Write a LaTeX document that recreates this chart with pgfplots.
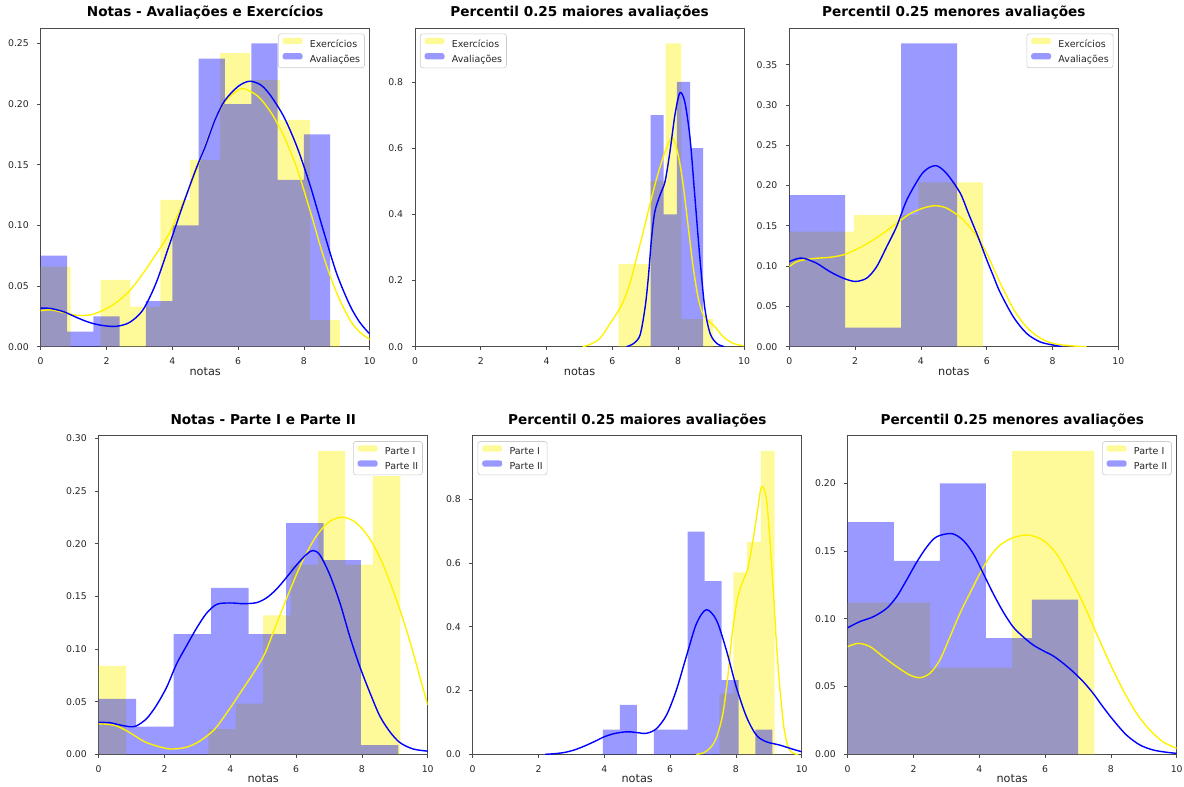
\documentclass[border=0pt]{standalone}
\usepackage{fontspec}
\setmainfont{DejaVu Sans}
\usepackage{pgfplots}
\pgfplotsset{compat=1.18}

\pgfplotsset{
  hax/.style={
    scale only axis, width=329pt, height=318.5pt,
    anchor=south west,
    xmin=0, xmax=10, ymin=0,
    xtick={0,2,4,6,8,10},
    axis line style={black!70, line width=0.8pt},
    tick style={black!70, line width=0.8pt},
    tick align=outside, major tick length=3.3pt,
    xtick pos=bottom, ytick pos=left,
    ticklabel style={font=\fontsize{9.3}{11}\selectfont, text=black!85, inner sep=0pt},
    xticklabel style={anchor=base, yshift=-15pt},
    yticklabel style={anchor=east, xshift=-8.4pt},
    /pgf/number format/assume math mode=true,
    scaled y ticks=false,
    xlabel=notas,
    xlabel style={font=\fontsize{11.3}{13}\selectfont, text=black!85, at={(axis description cs:0.5,0)}, anchor=base, yshift=-28.5pt, inner sep=0pt},
    title style={font=\fontsize{13.6}{16}\selectfont\bfseries, at={(axis description cs:0.5,1)}, anchor=base, yshift=5.3pt, inner sep=0pt},
    legend cell align=left,
    legend style={font=\fontsize{9.5}{11}\selectfont, text=black!85, draw=black!20, line width=0.6pt, rounded corners=2.5pt, fill=white, fill opacity=0.8, text opacity=1, draw opacity=1, inner xsep=4.3pt, inner ysep=3.9pt, row sep=4.5pt, nodes={inner sep=0pt}, /tikz/every odd column/.append style={column sep=7.3pt}},
  },
  legR/.style={legend style={at={(axis description cs:0.985,0.983)}, anchor=north east}},
  legL/.style={legend style={at={(axis description cs:0.015,0.983)}, anchor=north west}},
  yfmt2/.style={yticklabel style={/pgf/number format/.cd, fixed, fixed zerofill, precision=2, /tikz/.cd}},
  yfmt1/.style={yticklabel style={/pgf/number format/.cd, fixed, fixed zerofill, precision=1, /tikz/.cd}},
  yhist/.style={const plot, fill=yellow, fill opacity=0.4, draw=none, legend image code/.code={\fill[yellow, fill opacity=0.4] (0pt,0pt) rectangle (20pt,6.3pt);}},
  bhist/.style={const plot, fill=blue, fill opacity=0.4, draw=none, legend image code/.code={\fill[blue, fill opacity=0.4] (0pt,0pt) rectangle (20pt,6.3pt);}},
  ykde/.style={yellow, line width=1.4pt, smooth, forget plot},
  bkde/.style={blue, line width=1.4pt, smooth, forget plot},
}

\begin{document}
\begin{tikzpicture}
\path[use as bounding box] (0,0) rectangle (1184pt,787pt);

% ---------------- Axis 1 ----------------
\begin{axis}[hax, legR, yfmt2, at={(40.7pt,440.3pt)}, ymax=0.2625,
  ytick={0,0.05,0.10,0.15,0.20,0.25},
  title={Notas - Avaliações e Exercícios}]
\addplot[yhist] coordinates {(0,0.066)(0.909,0)(1.818,0.055)(2.727,0.033)(3.636,0.121)(4.545,0.154)(5.455,0.242)(6.364,0.220)(7.273,0.187)(8.182,0.022)(9.091,0.022)} \closedcycle;
\addlegendentry{Exercícios}
\addplot[bhist] coordinates {(0,0.075)(0.8,0.0125)(1.6,0.025)(2.4,0)(3.2,0.0375)(4.0,0.1)(4.8,0.2375)(5.6,0.2)(6.4,0.25)(7.2,0.1375)(8.0,0.175)(8.8,0.175)} \closedcycle;
\addlegendentry{Avaliações}
\addplot[ykde] coordinates {(0,0.0296)(0.3,0.0304)(0.7,0.0281)(1.1,0.0258)(1.5,0.0262)(1.9,0.0300)(2.3,0.0365)(2.7,0.046)(3.1,0.060)(3.5,0.076)(3.9,0.093)(4.3,0.117)(4.7,0.143)(5.0,0.166)(5.3,0.187)(5.6,0.202)(6.0,0.2115)(6.2,0.2125)(6.6,0.2065)(7.0,0.193)(7.4,0.173)(7.8,0.146)(8.2,0.111)(8.6,0.074)(9.0,0.044)(9.4,0.022)(9.7,0.012)(10,0.006)};
\addplot[bkde] coordinates {(0,0.0318)(0.3,0.0315)(0.7,0.0288)(1.1,0.0240)(1.5,0.0198)(1.9,0.0174)(2.3,0.0168)(2.7,0.0200)(3.1,0.030)(3.5,0.052)(3.9,0.083)(4.3,0.115)(4.7,0.145)(5.0,0.165)(5.3,0.187)(5.6,0.203)(6.0,0.2145)(6.35,0.2188)(6.7,0.2155)(7.0,0.2065)(7.4,0.189)(7.8,0.164)(8.2,0.132)(8.6,0.095)(9.0,0.060)(9.4,0.034)(9.7,0.020)(10,0.0105)};
\end{axis}

% ---------------- Axis 2 ----------------
\begin{axis}[hax, legL, yfmt1, at={(415pt,440.3pt)}, ymax=0.9625,
  ytick={0,0.2,0.4,0.6,0.8},
  title={Percentil 0.25 maiores avaliações}]
\addplot[yhist] coordinates {(6.18,0.25)(6.66,0.25)(7.14,0.5)(7.62,0.9167)(8.10,0.0833)(8.58,0.0833)(9.06,0.0833)} \closedcycle;
\addlegendentry{Exercícios}
\addplot[bhist] coordinates {(7.16,0.7)(7.56,0.4)(7.96,0.8)(8.36,0.6)(8.76,0.6)} \closedcycle;
\addlegendentry{Avaliações}
\addplot[ykde] coordinates {(5.1,0)(5.32,0.007)(5.62,0.025)(5.93,0.07)(6.13,0.10)(6.33,0.136)(6.53,0.19)(6.73,0.267)(6.94,0.348)(7.14,0.43)(7.35,0.51)(7.55,0.575)(7.75,0.625)(7.85,0.628)(8.0,0.58)(8.15,0.49)(8.31,0.358)(8.46,0.237)(8.61,0.146)(8.76,0.096)(8.92,0.078)(9.12,0.06)(9.37,0.03)(9.67,0.01)(9.98,0.003)};
\addplot[bkde] coordinates {(6.43,0)(6.65,0.01)(6.84,0.035)(6.99,0.116)(7.09,0.207)(7.19,0.328)(7.29,0.408)(7.45,0.459)(7.6,0.499)(7.75,0.59)(7.9,0.70)(8.05,0.767)(8.2,0.74)(8.36,0.63)(8.51,0.449)(8.66,0.267)(8.81,0.116)(8.97,0.04)(9.17,0.01)(9.4,0)};
\end{axis}

% ---------------- Axis 3 ----------------
\begin{axis}[hax, legR, yfmt2, at={(789.3pt,440.3pt)}, ymax=0.3953,
  ytick={0,0.05,0.10,0.15,0.20,0.25,0.30,0.35},
  title={Percentil 0.25 menores avaliações}]
\addplot[yhist] coordinates {(0,0.14286)(1.96,0.16327)(3.92,0.20408)(5.88,0.20408)} \closedcycle;
\addlegendentry{Exercícios}
\addplot[bhist] coordinates {(0,0.18824)(1.7,0.02353)(3.4,0.37647)(5.1,0.37647)} \closedcycle;
\addlegendentry{Avaliações}
\addplot[ykde] coordinates {(0,0.0994)(0.2,0.105)(0.43,0.1077)(0.83,0.1098)(1.24,0.111)(1.64,0.114)(2.05,0.121)(2.45,0.130)(2.86,0.141)(3.26,0.153)(3.67,0.165)(4.07,0.172)(4.43,0.175)(4.78,0.172)(5.19,0.161)(5.45,0.150)(5.75,0.134)(6.0,0.116)(6.2,0.098)(6.4,0.080)(6.81,0.047)(7.21,0.0245)(7.62,0.0108)(8.02,0.004)(8.53,0.0012)(9.04,0)};
\addplot[bkde] coordinates {(0,0.1056)(0.22,0.109)(0.43,0.1098)(0.83,0.1036)(1.24,0.093)(1.64,0.085)(2.0,0.081)(2.35,0.085)(2.65,0.099)(2.96,0.124)(3.26,0.149)(3.57,0.182)(3.97,0.211)(4.2,0.221)(4.48,0.2245)(4.78,0.215)(5.19,0.191)(5.45,0.165)(5.75,0.135)(6.0,0.108)(6.2,0.088)(6.4,0.068)(6.81,0.037)(7.21,0.0166)(7.62,0.006)(8.02,0.002)(8.3,0)};
\end{axis}

% ---------------- Axis 4 ----------------
\begin{axis}[hax, legR, yfmt2, at={(98.7pt,32.7pt)}, ymax=0.3024,
  ytick={0,0.05,0.10,0.15,0.20,0.25,0.30},
  title={Notas - Parte I e Parte II}]
\addplot[yhist] coordinates {(0,0.084)(0.8333,0)(1.6667,0)(2.5,0)(3.3333,0.024)(4.1667,0.048)(5.0,0.132)(5.8333,0.18)(6.6667,0.288)(7.5,0.18)(8.3333,0.264)(9.1667,0.264)} \closedcycle;
\addlegendentry{Parte I}
\addplot[bhist] coordinates {(0,0.0527)(1.139,0.0263)(2.278,0.1141)(3.417,0.158)(4.556,0.1141)(5.694,0.2195)(6.833,0.1844)(7.972,0.00878)(9.111,0.00878)} \closedcycle;
\addlegendentry{Parte II}
\addplot[ykde] coordinates {(0,0.029)(0.49,0.0275)(0.90,0.0214)(1.4,0.0119)(1.91,0.0066)(2.26,0.005)(2.72,0.0072)(3.12,0.0135)(3.53,0.024)(3.93,0.041)(4.34,0.060)(4.74,0.079)(5.05,0.0957)(5.37,0.121)(5.77,0.1525)(6.18,0.1825)(6.59,0.206)(6.99,0.2204)(7.4,0.2251)(7.8,0.2204)(8.21,0.206)(8.61,0.1825)(9.02,0.1493)(9.42,0.1114)(9.93,0.0546)(10,0.047)};
\addplot[bkde] coordinates {(0,0.0303)(0.34,0.030)(0.65,0.0278)(0.95,0.0262)(1.15,0.027)(1.46,0.034)(1.76,0.0467)(2.07,0.064)(2.37,0.086)(2.67,0.103)(2.98,0.120)(3.28,0.134)(3.59,0.1424)(3.99,0.1437)(4.40,0.143)(4.80,0.144)(5.11,0.1487)(5.41,0.157)(5.71,0.168)(6.02,0.18)(6.32,0.19)(6.52,0.1935)(6.73,0.189)(7.03,0.170)(7.34,0.143)(7.64,0.111)(7.94,0.083)(8.25,0.058)(8.55,0.036)(8.86,0.021)(9.16,0.011)(9.56,0.005)(10,0.003)};
\end{axis}

% ---------------- Axis 5 ----------------
\begin{axis}[hax, legL, yfmt1, at={(472.7pt,32.7pt)}, ymax=1.0,
  ytick={0,0.2,0.4,0.6,0.8},
  title={Percentil 0.25 maiores avaliações}]
\addplot[yhist] coordinates {(7.5,0.1905)(7.92,0.5714)(8.34,0.6667)(8.76,0.9524)(9.18,0.9524)} \closedcycle;
\addlegendentry{Parte I}
\addplot[bhist] coordinates {(3.96,0.0777)(4.475,0.1553)(4.99,0)(5.505,0.0777)(6.02,0.0777)(6.535,0.699)(7.05,0.5437)(7.565,0.233)(8.08,0)(8.595,0.0777)(9.11,0.0777)} \closedcycle;
\addlegendentry{Parte II}
\addplot[ykde] coordinates {(6.8,0)(7.0,0.004)(7.2,0.018)(7.4,0.05)(7.6,0.125)(7.75,0.24)(7.9,0.39)(8.05,0.49)(8.2,0.54)(8.35,0.58)(8.5,0.66)(8.65,0.76)(8.75,0.83)(8.82,0.84)(8.92,0.807)(9.0,0.72)(9.07,0.619)(9.15,0.49)(9.22,0.368)(9.3,0.25)(9.38,0.160)(9.45,0.09)(9.53,0.045)(9.6,0.02)(9.68,0.008)(9.8,0.001)(9.9,0)};
\addplot[bkde] coordinates {(2.2,0)(2.5,0.002)(2.8,0.006)(3.1,0.014)(3.4,0.026)(3.7,0.040)(4.0,0.055)(4.3,0.065)(4.6,0.070)(4.8,0.0705)(5.0,0.068)(5.28,0.066)(5.58,0.08)(5.89,0.123)(6.19,0.2015)(6.49,0.306)(6.8,0.41)(7.1,0.454)(7.41,0.421)(7.71,0.327)(8.01,0.212)(8.32,0.118)(8.62,0.0605)(8.92,0.0395)(9.33,0.029)(9.73,0.016)(10,0.008)};
\end{axis}

% ---------------- Axis 6 ----------------
\begin{axis}[hax, legR, yfmt2, at={(847.7pt,32.7pt)}, ymax=0.2352,
  ytick={0,0.05,0.10,0.15,0.20},
  title={Percentil 0.25 menores avaliações}]
\addplot[yhist] coordinates {(0,0.112)(2.5,0.064)(5.0,0.224)(7.5,0.224)} \closedcycle;
\addlegendentry{Parte I}
\addplot[bhist] coordinates {(0,0.1714)(1.4,0.1429)(2.8,0.2)(4.2,0.0857)(5.6,0.1143)(7.0,0.1143)} \closedcycle;
\addlegendentry{Parte II}
\addplot[ykde] coordinates {(0,0.0795)(0.32,0.0819)(0.68,0.0795)(1.08,0.072)(1.49,0.0647)(1.89,0.0585)(2.2,0.0566)(2.5,0.0598)(2.8,0.0696)(3.11,0.0868)(3.41,0.104)(3.71,0.1188)(4.02,0.1336)(4.32,0.1459)(4.63,0.1545)(5.03,0.160)(5.49,0.1619)(5.94,0.158)(6.35,0.148)(6.75,0.131)(7.16,0.1114)(7.56,0.0893)(7.97,0.0672)(8.37,0.0475)(8.78,0.0303)(9.18,0.018)(9.58,0.0093)(10,0.0044)};
\addplot[bkde] coordinates {(0,0.0935)(0.37,0.098)(0.78,0.1016)(1.18,0.1077)(1.49,0.1164)(1.79,0.1287)(2.1,0.142)(2.4,0.153)(2.7,0.1606)(3.16,0.163)(3.51,0.158)(3.82,0.148)(4.12,0.1336)(4.42,0.1188)(4.73,0.105)(5.03,0.094)(5.33,0.0868)(5.64,0.0807)(5.94,0.0765)(6.25,0.0726)(6.55,0.0672)(6.85,0.061)(7.16,0.0536)(7.46,0.045)(7.76,0.035)(8.07,0.0253)(8.47,0.0143)(8.88,0.0069)(9.28,0.0032)(9.69,0.0015)(10,0.0007)};
\end{axis}
\end{tikzpicture}
\end{document}
